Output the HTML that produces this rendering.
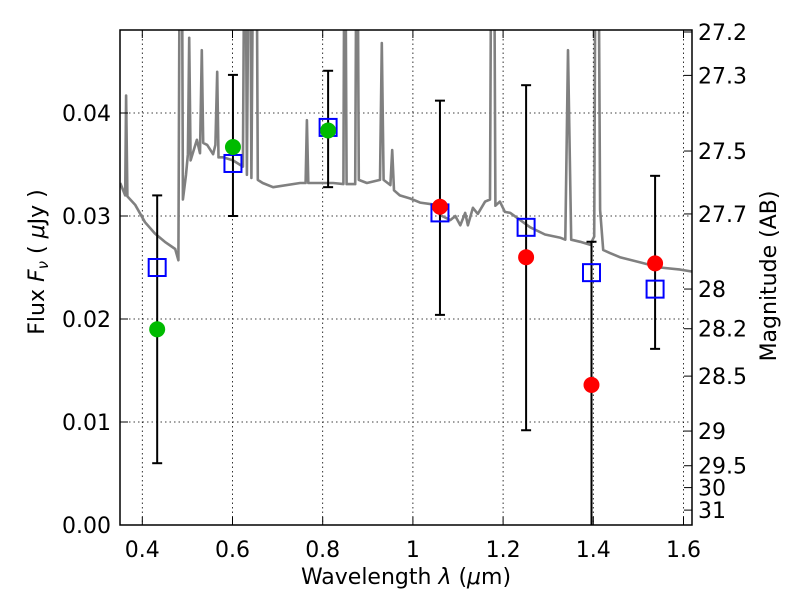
<!DOCTYPE html>
<html><head><meta charset="utf-8"><style>
body{margin:0;background:#fff;}
svg text{font-family:"DejaVu Sans","Liberation Sans",sans-serif;fill:#000;}
</style></head><body>
<svg id="chart" width="800" height="600" viewBox="0 0 800 600" xmlns="http://www.w3.org/2000/svg">
<defs><clipPath id="clip"><rect x="120" y="30" width="572" height="495"/></clipPath></defs>
<rect x="0" y="0" width="800" height="600" fill="#fff"/>
<g id="grid"></g>
<g id="spec" clip-path="url(#clip)"></g>
<g id="marks" clip-path="url(#clip)"></g>
<rect x="120" y="30" width="572" height="495" fill="none" stroke="#000" stroke-width="1.5"/>
<g id="axes"></g>
<text x="406" y="584" font-size="22" text-anchor="middle">Wavelength  <tspan font-style="italic">λ</tspan> (<tspan font-style="italic">μ</tspan>m)</text>
<text transform="translate(44,262) rotate(-90)" font-size="22" text-anchor="middle">Flux  <tspan font-style="italic">F</tspan><tspan font-style="italic" font-size="15" dy="4">ν</tspan><tspan dy="-4">  ( </tspan><tspan font-style="italic">μ</tspan>Jy )</text>
<text transform="translate(776,276) rotate(-90)" font-size="22" text-anchor="middle">Magnitude (AB)</text>
</svg>
<script>
const NS="http://www.w3.org/2000/svg";
const xTicks=[0.4,0.6,0.8,1.0,1.2,1.4,1.6];
const xTickLabels=["0.4","0.6","0.8","1","1.2","1.4","1.6"];
const yTicks=[0,0.01,0.02,0.03,0.04];
const yTickLabels=["0.00","0.01","0.02","0.03","0.04"];
const magTicks=[27.2,27.3,27.5,27.7,28,28.2,28.5,29,29.5,30,31];
const magTickLabels=["27.2","27.3","27.5","27.7","28","28.2","28.5","29","29.5","30","31"];
const bandWave=[0.433,0.601,0.812,1.060,1.251,1.396,1.537];
const obsFlux=[0.0190,0.0367,0.0383,0.0309,0.0260,0.0136,0.0254];
const obsLow=[0.0060,0.0300,0.0328,0.0204,0.0092,-0.002,0.0171];
const obsHigh=[0.0320,0.0437,0.0441,0.0412,0.0427,0.0275,0.0339];
const obsColor=["#00bb00","#00bb00","#00bb00","#ff0000","#ff0000","#ff0000","#ff0000"];
const modelFlux=[0.0250,0.0351,0.0386,0.0303,0.0289,0.0245,0.0229];
const specWave=[0.351,0.362,0.364,0.367,0.384,0.406,0.428,0.450,0.473,0.480,0.484,0.487,0.490,0.497,0.501,0.504,0.507,0.521,0.528,0.532,0.535,0.544,0.557,0.562,0.566,0.569,0.579,0.601,0.623,0.628,0.632,0.638,0.642,0.648,0.652,0.656,0.667,0.690,0.750,0.762,0.765,0.768,0.823,0.846,0.849,0.853,0.872,0.876,0.880,0.898,0.927,0.931,0.935,0.950,0.954,0.958,0.971,0.994,1.016,1.049,1.060,1.083,1.094,1.105,1.116,1.122,1.133,1.144,1.160,1.171,1.175,1.179,1.183,1.193,1.204,1.216,1.238,1.260,1.293,1.326,1.338,1.344,1.351,1.371,1.393,1.402,1.406,1.410,1.415,1.422,1.437,1.459,1.504,1.548,1.593,1.62];
const specFlux=[.0332,.0320,.0417,.0319,.0311,.0294,.0283,.0275,.0268,.0257,.07,.07,.0316,.0340,.0360,.0473,.0354,.0374,.0361,.0461,.0371,.0369,.0360,.0369,.0440,.0357,.0357,.0354,.0348,.07,.0340,.07,.0337,.07,.07,.0335,.0332,.0328,.0332,.0332,.0393,.0332,.0332,.0331,.07,.0331,.0331,.07,.0335,.0332,.0335,.0468,.0335,.0330,.0364,.0325,.0320,.0317,.0313,.0311,.0301,.0296,.0300,.0291,.0303,.0291,.0308,.0302,.0314,.0316,.07,.07,.0310,.0314,.0304,.0303,.0296,.0289,.0282,.0279,.0277,.0461,.0277,.0275,.0272,.0280,.07,.07,.0306,.0267,.0264,.0260,.0255,.0250,.0248,.0246];

const X=v=>142.3+(v-0.4)*451;
const Y=f=>525-f*10300;
const MagY=m=>Y(Math.pow(10,(23.9-m)/2.5));
function el(tag,attrs,parent){const e=document.createElementNS(NS,tag);for(const k in attrs)e.setAttribute(k,attrs[k]);parent.appendChild(e);return e;}
const grid=document.getElementById('grid'),axes=document.getElementById('axes');
const spec=document.getElementById('spec'),marks=document.getElementById('marks');

xTicks.forEach((t,i)=>{
  const g=el('line',{x1:X(t),x2:X(t),y1:30,y2:525,stroke:'#000','stroke-width':0.8,'stroke-dasharray':'1.5,3'},grid);
  
  
  el('line',{x1:X(t),x2:X(t),y1:525,y2:517,stroke:'#000','stroke-width':1},axes);
  el('line',{x1:X(t),x2:X(t),y1:30,y2:38,stroke:'#000','stroke-width':1},axes);
  const tx=el('text',{x:X(t),y:557,'font-size':22,'text-anchor':'middle'},axes);
  tx.textContent=xTickLabels[i];
  
  
});
yTicks.forEach((t,i)=>{
  if(t>0){const g=el('line',{x1:120,x2:692,y1:Y(t),y2:Y(t),stroke:'#000','stroke-width':0.8,'stroke-dasharray':'1.5,3'},grid);
  
  }
  el('line',{x1:120,x2:128,y1:Y(t),y2:Y(t),stroke:'#000','stroke-width':1},axes);
  const tx=el('text',{x:111,y:Y(t)+8,'font-size':22,'text-anchor':'end'},axes);
  tx.textContent=yTickLabels[i];
  
  
});
magTicks.forEach((m,i)=>{
  const y=MagY(m);
  el('line',{x1:692,x2:684,y1:y,y2:y,stroke:'#000','stroke-width':1},axes);
  const tx=el('text',{x:698,y:y+8,'font-size':22},axes);
  tx.textContent=magTickLabels[i];
  
  
});
const pts=specWave.map((w,i)=>X(w).toFixed(1)+','+Y(specFlux[i]).toFixed(1)).join(' ');
const pl=el('polyline',{points:pts,fill:'none',stroke:'#808080','stroke-width':2.6,'stroke-linejoin':'round'},spec);



bandWave.forEach((w,i)=>{
  const x=X(w);
  const eb=el('g',{},marks);
  
  
  el('line',{x1:x,x2:x,y1:Y(obsLow[i]),y2:Y(obsHigh[i]),stroke:'#000','stroke-width':2},eb);
  el('line',{x1:x-5,x2:x+5,y1:Y(obsLow[i]),y2:Y(obsLow[i]),stroke:'#000','stroke-width':2},eb);
  el('line',{x1:x-5,x2:x+5,y1:Y(obsHigh[i]),y2:Y(obsHigh[i]),stroke:'#000','stroke-width':2},eb);
  const sq=el('rect',{x:x-8.5,y:Y(modelFlux[i])-8.5,width:17,height:17,fill:'none',stroke:'#0000ff','stroke-width':2},marks);
  
  
  const c=el('circle',{cx:x,cy:Y(obsFlux[i]),r:8,fill:obsColor[i]},marks);
  
  
});
</script>
</body></html>
